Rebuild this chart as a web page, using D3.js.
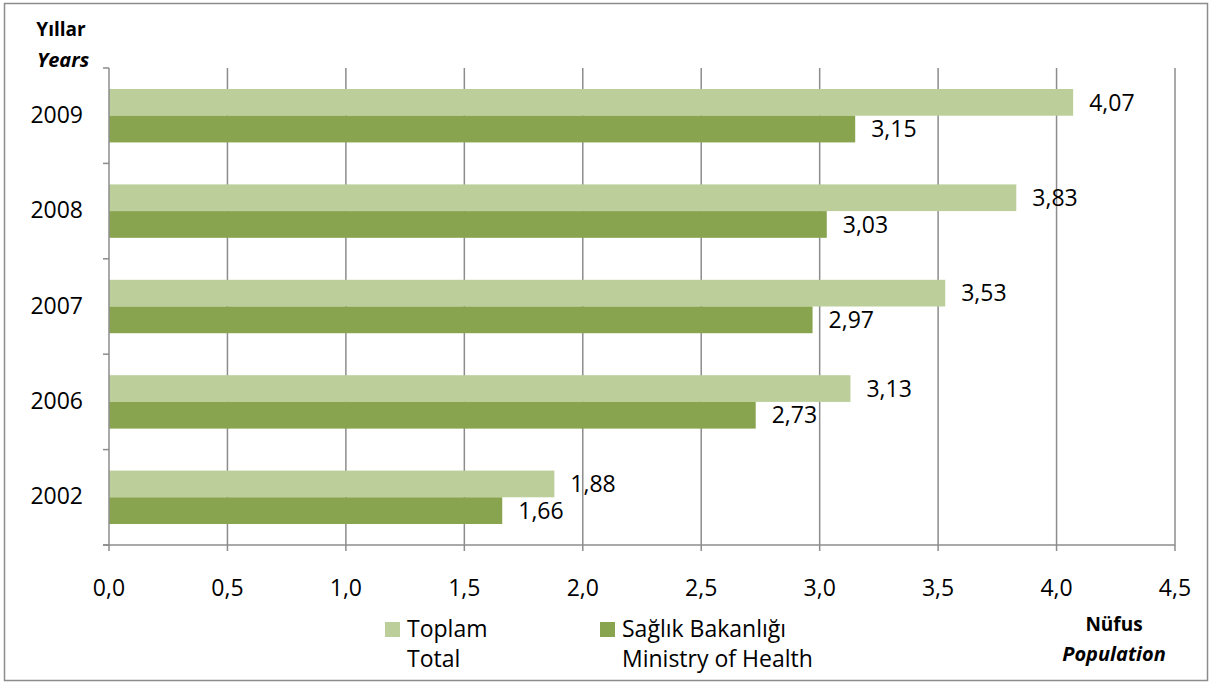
<!DOCTYPE html>
<html><head><meta charset="utf-8">
<script src="https://cdn.jsdelivr.net/npm/d3@7"></script>
<style>body{margin:0;background:#fff}svg{display:block}text{font-family:"Open Sans",Lato,sans-serif;fill:#000}</style>
</head><body><svg id="c" width="1212" height="684"></svg>
<script>
const years = ["2009","2008","2007","2006","2002"];
const total = [4.07,3.83,3.53,3.13,1.88];
const ministry = [3.15,3.03,2.97,2.73,1.66];
const xTicks = [0,0.5,1,1.5,2,2.5,3,3.5,4,4.5];
const seriesNames = [["Toplam","Total"],["Sağlık Bakanlığı","Ministry of Health"]];
const colors = ["#bccf9a","#89a44f"];
const FS = 23;

const svg = d3.select("#c");
svg.append("rect").attr("x",4.5).attr("y",3.5).attr("width",1203).attr("height",677)
  .attr("fill","#fff").attr("stroke","#8c8c8c").attr("stroke-width",1.5);

const L=109,R=1175,T=68,B=545;
const x = d3.scaleLinear().domain([0,4.5]).range([L,R]);
const y = d3.scaleBand().domain(years).range([T,B]).paddingInner(0.44).paddingOuter(0.22);
const fmt = v => d3.format(".2f")(v).replace(".",",");

// gridlines
svg.append("g").selectAll("line").data(xTicks.slice(1)).join("line")
  .attr("x1",d=>x(d)).attr("x2",d=>x(d)).attr("y1",T).attr("y2",B+6)
  .attr("stroke","#8c8c8c").attr("stroke-width",1.5);

// bars
const band = y.bandwidth();
const ser = [total, ministry];
ser.forEach((vals,si)=>{
  svg.append("g").selectAll("rect").data(years).join("rect")
    .attr("x",L).attr("y",d=>y(d)+si*band/2).attr("height",band/2)
    .attr("width",(d,i)=>x(vals[i])-L).attr("fill",colors[si]);
  svg.append("g").selectAll("text").data(years).join("text")
    .attr("x",(d,i)=>x(vals[i])+16).attr("y",d=>y(d)+si*band/2+band/4+2)
    .attr("dominant-baseline","middle").attr("font-size",FS)
    .text((d,i)=>fmt(vals[i]));
});

// y axis line and ticks
const step = (B-T)/years.length;
svg.append("line").attr("x1",L).attr("x2",L).attr("y1",T).attr("y2",B+6).attr("stroke","#8c8c8c").attr("stroke-width",1.5);
svg.append("g").selectAll("line").data(d3.range(years.length+1)).join("line")
  .attr("x1",L-6).attr("x2",L).attr("y1",i=>T+i*step).attr("y2",i=>T+i*step)
  .attr("stroke","#8c8c8c").attr("stroke-width",1.5);
svg.append("line").attr("x1",L-6).attr("x2",R).attr("y1",B).attr("y2",B).attr("stroke","#8c8c8c").attr("stroke-width",1.5);

// category labels
svg.append("g").selectAll("text").data(years).join("text")
  .attr("x",83).attr("y",d=>y(d)+band/2+1).attr("text-anchor","end")
  .attr("dominant-baseline","middle").attr("font-size",FS).text(d=>d);

// x tick labels
svg.append("g").selectAll("text").data(xTicks).join("text")
  .attr("x",d=>x(d)).attr("y",590).attr("text-anchor","middle")
  .attr("dominant-baseline","middle").attr("font-size",FS)
  .text(d=>d3.format(".1f")(d).replace(".",","));

// axis titles
svg.append("text").attr("x",61).attr("y",31).attr("text-anchor","middle").attr("dominant-baseline","middle")
  .attr("font-size",19).attr("font-weight","bold").text("Yıllar");
svg.append("text").attr("x",63).attr("y",62).attr("text-anchor","middle").attr("dominant-baseline","middle")
  .attr("font-size",20).attr("font-weight","bold").attr("font-style","italic").text("Years");
svg.append("text").attr("x",1114).attr("y",626).attr("text-anchor","middle").attr("dominant-baseline","middle")
  .attr("font-size",19).attr("font-weight","bold").text("Nüfus");
svg.append("text").attr("x",1114).attr("y",656).attr("text-anchor","middle").attr("dominant-baseline","middle")
  .attr("font-size",20).attr("font-weight","bold").attr("font-style","italic").text("Population");

// legend
const legX=[385,600];
seriesNames.forEach((nm,i)=>{
  svg.append("rect").attr("x",legX[i]).attr("y",622).attr("width",15).attr("height",15).attr("fill",colors[i]);
  svg.append("text").attr("x",legX[i]+22).attr("y",631).attr("dominant-baseline","middle").attr("font-size",FS).text(nm[0]);
  svg.append("text").attr("x",legX[i]+22).attr("y",661).attr("dominant-baseline","middle").attr("font-size",FS).text(nm[1]);
});
</script></body></html>
